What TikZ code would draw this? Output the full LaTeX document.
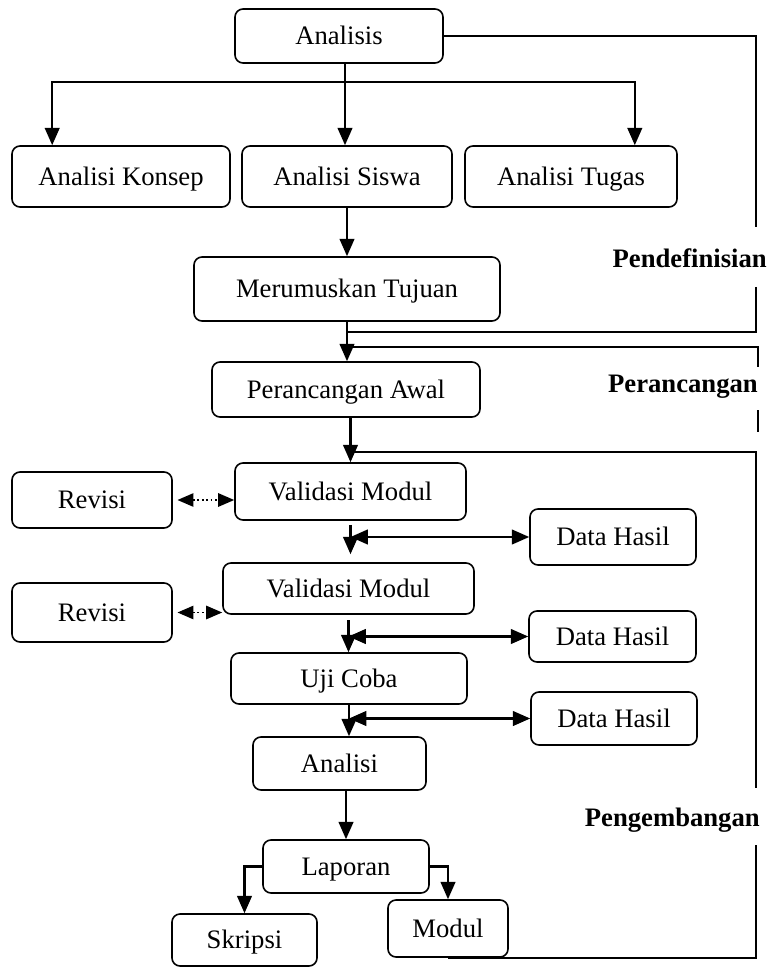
\documentclass[tikz,border=0pt]{standalone}
\usepackage{fontspec}
\setmainfont{Liberation Serif}
\usepackage{tikz}
\usetikzlibrary{arrows.meta, calc}

\tikzset{
	box/.style={draw, rounded corners=6pt, line width=1.2pt, inner sep=0pt, text height=13pt, text depth=0pt, font=\fontsize{20}{24}\selectfont},
	wh/.style 2 args={minimum width=#1*0.75pt, minimum height=#2*0.75pt},
	phase/.style={anchor=east, inner sep=0pt, font=\fontsize{20}{24}\selectfont\bfseries},
	arr/.style={line width=1.6pt, -{Triangle[length=13pt,width=11pt]}},
	darr/.style={line width=1.6pt, {Triangle[length=13pt,width=11pt]}-{Triangle[length=13pt,width=11pt]}},
	dotarr/.style={line width=1.3pt, dotted, {Triangle[length=12pt,width=10pt]}-{Triangle[length=12pt,width=10pt]}},
	bracket/.style={line width=1.5pt}
}

\begin{document}
\begin{tikzpicture}[x=0.75pt, y=-0.75pt]
		\useasboundingbox (0,0) rectangle (769,969);
		% boxes
		\node[box, wh={208}{54}] (analisis) at (339,36) {Analisis};
		\node[box, wh={218}{61}] (konsep) at (121,176.5) {Analisi Konsep};
		\node[box, wh={210}{61}] (siswa) at (347,176.5) {Analisi Siswa};
		\node[box, wh={212}{61}] (tugas) at (571,176.5) {Analisi Tugas};
		\node[box, wh={306}{64}] (tujuan) at (347,289) {Merumuskan Tujuan};
		\node[box, wh={268}{55}] (awal) at (346,389.5) {Perancangan Awal};
		\node[box, wh={231}{57}] (valid1) at (350.5,491.5) {Validasi Modul};
		\node[box, wh={160}{56}] (revisi1) at (92,500) {Revisi};
		\node[box, wh={166}{56}] (hasil1) at (613,537) {Data Hasil};
		\node[box, wh={251}{51}] (valid2) at (348.5,588.5) {Validasi Modul};
		\node[box, wh={160}{59}] (revisi2) at (92,612.5) {Revisi};
		\node[box, wh={167}{51}] (hasil2) at (612.5,636.5) {Data Hasil};
		\node[box, wh={236}{51}] (uji) at (349,678.5) {Uji Coba};
		\node[box, wh={166}{53}] (hasil3) at (614,718.5) {Data Hasil};
		\node[box, wh={173}{53}] (analisi) at (339.5,763.5) {Analisi};
		\node[box, wh={166}{53}] (laporan) at (346,866.5) {Laporan};
		\node[box, wh={145}{52}] (skripsi) at (244.5,940) {Skripsi};
		\node[box, wh={120}{57}] (modul) at (448,928.5) {Modul};
		% phases
		\node[phase] (pdef) at (767,258) {Pendefinisian};
		\node[phase] (prcg) at (758,387) {Perancangan};
		\node[phase] (pgmb) at (760,820) {Pengembangan};
		% analisis branch
		\coordinate (split) at (345,82);
		\draw[arr] (analisis.south -| split) -- (siswa.north -| split);
		\draw[arr] (split) -| ($(konsep.north west)+(41,0)$);
		\draw[arr] (split) -| ($(tugas.north east)+(-43,0)$);
		\draw[arr] (siswa.south) -- (tujuan.north);
		\draw[arr] (tujuan.south) -- (tujuan.south |- awal.north);
		\draw[arr] (valid1.north |- awal.south) -- (valid1.north);
		% brackets
		\coordinate (d1) at (756,227);
		\coordinate (d2) at (756,287);
		\coordinate (d3) at (347,332);
		\draw[bracket] (analisis.east) -| (d1);
		\draw[bracket] (d2) |- (d3);
		\coordinate (r1) at (347,347);
		\coordinate (r2) at (758,367);
		\coordinate (r3) at (758,410);
		\coordinate (r4) at (758,432);
		\draw[bracket] (r1) -| (r2);
		\draw[bracket] (r3) -- (r4);
		\coordinate (g1) at (350,452);
		\coordinate (g2) at (756,788);
		\coordinate (g3) at (756,845);
		\draw[bracket] (g1) -| (g2);
		\draw[bracket] (g3) |- (modul.south);
		% dotted
		\draw[dotarr, shorten <=3.5pt] (revisi1.east) -- (revisi1.east -| valid1.west);
		\draw[dotarr, shorten <=3.5pt] (revisi2.east) -- (revisi2.east -| valid2.west);
		% validation
		\draw[arr, shorten <=3pt, shorten >=6pt] (valid1.south) -- (valid1.south |- valid2.north);
		\draw[darr] (hasil1.west -| valid1.south) -- (hasil1.west);
		\draw[arr, shorten <=4pt] (valid2.south) -- (valid2.south |- uji.north);
		\draw[darr] (hasil2.west -| valid2.south) -- (hasil2.west);
		\draw[arr] (uji.south) -- (uji.south |- analisi.north);
		\draw[darr] (hasil3.west -| uji.south) -- (hasil3.west);
		\draw[arr] (laporan.north |- analisi.south) -- (laporan.north);
		\draw[arr] (laporan.west) -| (skripsi.north);
		\draw[arr] (laporan.east) -| (modul.north);
	\end{tikzpicture}
\end{document}
